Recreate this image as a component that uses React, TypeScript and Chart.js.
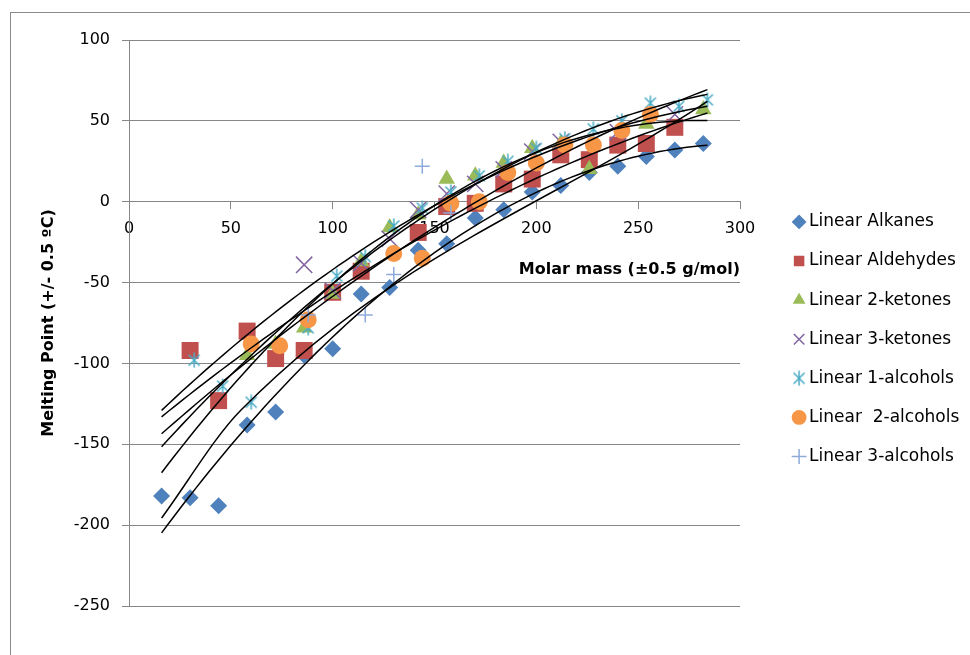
import React, { useEffect, useRef } from "react";
import { Chart, registerables } from "chart.js";

Chart.register(...registerables);

// ---------------- data (molar mass g/mol, melting point °C) ----------------
const alkanesMass = [16, 30, 44, 58, 72, 86, 100, 114, 128, 142, 156, 170, 184, 198, 212, 226, 240, 254, 268, 282];
const alkanesMp = [-182, -183, -188, -138, -130, -95, -91, -57, -53, -30, -26, -10, -5, 6, 10, 18, 22, 28, 32, 36];

const aldehydesMass = [30, 44, 58, 72, 86, 100, 114, 142, 156, 170, 184, 198, 212, 226, 240, 254, 268];
const aldehydesMp = [-92, -123, -80, -97, -92, -56, -43, -19, -3, -1, 11, 14, 29, 26, 35, 36, 46];

const ketones2Mass = [58, 72, 86, 100, 114, 128, 142, 156, 170, 184, 198, 212, 226, 254, 282];
const ketones2Mp = [-95, -88, -78, -57, -37, -16, -8, 14, 16, 24, 33, 36, 20, 48, 57];

const ketones3Mass = [86, 100, 114, 128, 142, 156, 170, 184, 198, 212, 240, 268];
const ketones3Mp = [-39, -55, -38, -23, -5, 5, 11, 20, 31, 37, 43, 54];

const alcohols1Mass = [32, 46, 60, 74, 88, 102, 116, 130, 144, 158, 172, 186, 200, 214, 228, 242, 256, 270, 284];
const alcohols1Mp = [-98, -114, -124, -89, -78, -46, -34, -15, -4, 6, 16, 25, 33, 39, 45, 50, 61, 59, 63];

const alcohols2Mass = [60, 74, 88, 130, 144, 158, 172, 186, 200, 214, 228, 242, 256];
const alcohols2Mp = [-88, -89, -73, -32, -35, -1, 0, 18, 24, 35, 35, 44, 54];

const alcohols3Mass = [88, 116, 130, 144, 158];
const alcohols3Mp = [-70, -70, -45, 22, -7];

// The 3-alcohols trendline cannot be derived from its few visible markers,
// so it is read directly off the picture (start, knee, end).
const alcohols3TrendMass = [16, 55, 284];
const alcohols3TrendMp = [-195.6, -128.8, 62];

const seriesLabels = [
  "Linear Alkanes",
  "Linear Aldehydes",
  "Linear 2-ketones",
  "Linear 3-ketones",
  "Linear 1-alcohols",
  "Linear  2-alcohols",
  "Linear 3-alcohols",
];

const xAxisTitle = "Molar mass (±0.5 g/mol)";
const yAxisTitle = "Melting Point (+/- 0.5 ºC)";
const xMin = 0, xMax = 300, xStep = 50;
const yMin = -250, yMax = 100, yStep = 50;

// ---------------- styling ----------------
const FONT = "'DejaVu Sans', 'Liberation Sans', sans-serif";
const GRID = "#878787";
const seriesColors = ["#4F81BD", "#C0504D", "#9BBB59", "#8064A2", "#4BACC6", "#F79646", "#8EAADB"];

function makeStar(color: string, size: number, lw: number) {
  const c = document.createElement("canvas");
  c.width = size;
  c.height = size;
  const ctx = c.getContext("2d")!;
  ctx.strokeStyle = color;
  ctx.lineWidth = lw;
  const m = 2.5;
  const h = size / 2;
  ctx.beginPath();
  ctx.moveTo(m, m);
  ctx.lineTo(size - m, size - m);
  ctx.moveTo(size - m, m);
  ctx.lineTo(m, size - m);
  ctx.moveTo(h, 0.5);
  ctx.lineTo(h, size - 0.5);
  ctx.stroke();
  return c;
}

// least-squares quadratic fit y = a + b x + c x^2 (Excel polynomial trendline, order 2)
function quadFit(xs: number[], ys: number[]) {
  let s0 = 0, s1 = 0, s2 = 0, s3 = 0, s4 = 0, t0 = 0, t1 = 0, t2 = 0;
  for (let i = 0; i < xs.length; i++) {
    const x = xs[i], y = ys[i], x2 = x * x;
    s0 += 1; s1 += x; s2 += x2; s3 += x2 * x; s4 += x2 * x2;
    t0 += y; t1 += x * y; t2 += x2 * y;
  }
  const M = [
    [s0, s1, s2, t0],
    [s1, s2, s3, t1],
    [s2, s3, s4, t2],
  ];
  for (let col = 0; col < 3; col++) {
    let piv = col;
    for (let r = col + 1; r < 3; r++) if (Math.abs(M[r][col]) > Math.abs(M[piv][col])) piv = r;
    [M[col], M[piv]] = [M[piv], M[col]];
    for (let r = 0; r < 3; r++) {
      if (r === col) continue;
      const f = M[r][col] / M[col][col];
      for (let k = col; k < 4; k++) M[r][k] -= f * M[col][k];
    }
  }
  return [M[0][3] / M[0][0], M[1][3] / M[1][1], M[2][3] / M[2][2]];
}

export default function App() {
  const ref = useRef<HTMLCanvasElement>(null);

  useEffect(() => {
    const masses = [alkanesMass, aldehydesMass, ketones2Mass, ketones3Mass, alcohols1Mass, alcohols2Mass, alcohols3Mass];
    const mps = [alkanesMp, aldehydesMp, ketones2Mp, ketones3Mp, alcohols1Mp, alcohols2Mp, alcohols3Mp];
    const star = makeStar(seriesColors[4], 16, 1.5);
    const styles: any[] = ["rectRot", "rect", "triangle", "crossRot", star, "circle", "cross"];
    const radii = [8.5, 12, 9.5, 11.5, 8, 8.5, 7.5];
    const borderW = [0, 0, 0, 1.5, 1.5, 0, 1.5];

    const allX = masses.flat();
    const tMin = Math.min(...allX);
    const tMax = Math.max(...allX);

    const scatterSets = masses.map((xs, i) => ({
      type: "scatter" as const,
      label: seriesLabels[i],
      data: xs.map((x, j) => ({ x, y: mps[i][j] })),
      backgroundColor: seriesColors[i],
      borderColor: seriesColors[i],
      borderWidth: borderW[i],
      pointStyle: styles[i],
      pointRadius: radii[i],
      pointHoverRadius: radii[i],
      order: 10 - i,
    }));

    const trendStyle = {
      type: "scatter" as const,
      showLine: true,
      borderColor: "#000",
      backgroundColor: "#000",
      borderWidth: 1.5,
      pointRadius: 0,
      pointHoverRadius: 0,
      fill: false,
      order: 0,
    };

    // fitted trendlines for the first six series
    const trendSets: any[] = masses.slice(0, 6).map((xs, i) => {
      const [a, b, c] = quadFit(xs, mps[i]);
      const pts: { x: number; y: number }[] = [];
      const n = 80;
      for (let k = 0; k <= n; k++) {
        const x = tMin + ((tMax - tMin) * k) / n;
        pts.push({ x, y: a + b * x + c * x * x });
      }
      return { ...trendStyle, label: "trend " + i, data: pts };
    });
    // 3-alcohols trendline
    trendSets.push({
      ...trendStyle,
      label: "trend 6",
      data: alcohols3TrendMass.map((x, j) => ({ x, y: alcohols3TrendMp[j] })),
      cubicInterpolationMode: "monotone",
    });

    const LEGEND_W = 230;
    const LEGEND_DX = 35.5;
    const LEGEND_DY = 16.2;
    const legendPlacement = {
      id: "legendPlacement",
      beforeLayout(chart: any) {
        const lg = chart.legend;
        if (lg && !lg.__patched) {
          const orig = lg.fit;
          lg.fit = function (this: any) {
            orig.call(this);
            this.width = LEGEND_W;
          };
          lg.__patched = true;
        }
      },
      afterLayout(chart: any) {
        const lg = chart.legend;
        if (!lg) return;
        lg.left += LEGEND_DX;
        lg.right += LEGEND_DX;
        lg.top += LEGEND_DY;
        lg.bottom += LEGEND_DY;
      },
    };

    Chart.defaults.font.family = FONT;
    Chart.defaults.color = "#000";

    const chart = new Chart(ref.current!, {
      type: "scatter",
      data: { datasets: [...scatterSets, ...trendSets] as any },
      plugins: [legendPlacement],
      options: {
        animation: false,
        responsive: false,
        events: [],
        layout: { padding: { top: 40, bottom: 49, left: 0, right: 0 } },
        plugins: {
          tooltip: { enabled: false },
          legend: {
            position: "right",
            align: "center",
            labels: {
              usePointStyle: true,
              boxWidth: 3,
              boxHeight: 10.5,
              padding: 22.1,
              color: "#000",
              font: { family: FONT, size: 17 },
              filter: (item: any) => item.datasetIndex < 7,
              sort: (a: any, b: any) => a.datasetIndex - b.datasetIndex,
            },
          },
        },
        scales: {
          x: {
            type: "linear",
            position: { y: 0 } as any,
            min: xMin,
            max: xMax,
            ticks: { stepSize: xStep, padding: 11, color: "#000", font: { family: FONT, size: 16 }, maxRotation: 0 },
            grid: { drawOnChartArea: false, drawTicks: true, tickLength: 7, color: GRID },
            border: { display: true, color: GRID, width: 1 },
            title: {
              display: true,
              text: xAxisTitle,
              align: "end",
              color: "#000",
              font: { family: FONT, size: 16, weight: "bold" },
              padding: { top: 10, bottom: 0 },
            },
          },
          y: {
            type: "linear",
            min: yMin,
            max: yMax,
            ticks: { stepSize: yStep, padding: 12, color: "#000", font: { family: FONT, size: 16 } },
            grid: { color: GRID, tickLength: 7, drawTicks: true },
            border: { display: true, color: GRID, width: 1 },
            title: {
              display: true,
              text: yAxisTitle,
              color: "#000",
              font: { family: FONT, size: 16, weight: "bold" },
              padding: { top: 39, bottom: 0 },
            },
            afterFit: (s: any) => {
              s.width = 129;
            },
          },
        },
      } as any,
    });
    return () => chart.destroy();
  }, []);

  return (
    <div style={{ position: "absolute", left: 0, top: 0, width: 970, height: 655, overflow: "hidden", background: "#fff" }}>
      <div
        style={{
          position: "absolute",
          left: 10,
          top: 12,
          width: 1400,
          height: 1200,
          border: "1px solid #8a8a8a",
          boxSizing: "border-box",
        }}
      />
      <canvas ref={ref} width={970} height={655} style={{ position: "absolute", left: 0, top: 0 }} />
    </div>
  );
}
